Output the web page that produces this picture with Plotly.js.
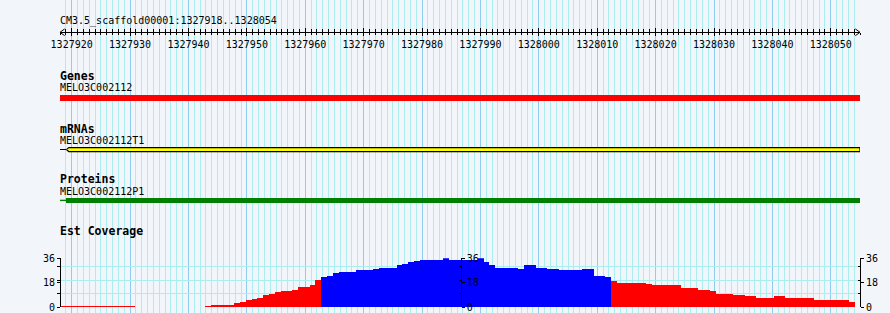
<!DOCTYPE html>
<html><head><meta charset="utf-8">
<script src="https://cdn.plot.ly/plotly-3.0.1.min.js"></script>
<style>html,body{margin:0;padding:0;background:#f2f6fb}#chart{width:890px;height:313px}</style>
</head><body><div id="chart"></div>
<script>
// ---------------- data ----------------
const refName = 'CM3.5_scaffold00001';
const regionStart = 1327918;
const regionEnd = 1328054;

const trackTitles = ['Genes', 'mRNAs', 'Proteins', 'Est Coverage'];
const featureNames = ['MELO3C002112', 'MELO3C002112T1', 'MELO3C002112P1'];

// feature extents (bp); features run past the right edge of the view
const geneSpan = [1327918, 1328055];
const mrnaConnector = [1327918, 1327919.1];
const mrnaExon = [1327919.1, 1328055];
const proteinConnector = [1327918, 1327919.05];
const proteinCds = [1327919.05, 1328055];

// EST coverage, one value per base from regionStart to regionEnd
const covValues = [
  1,1,1,1,1,1,1,1,1,1,1,1,1,
  0,0,0,0,0,0,0,0,0,0,0,0,
  1,2,2,2,2,3,4,5,6,7,9,10,11,12,12,13,15,15,16,20,
  22,23,25,26,26,26,27,27,27,28,29,29,29,31,32,33,34,35,35,35,35,36,
  35,35,35,35,35,36,33,31,29,29,29,29,28,31,31,29,29,28,28,27,27,27,27,28,28,23,23,22,
  19,18,18,18,18,18,17,16,16,16,16,16,14,14,14,13,13,12,10,10,10,9,9,8,8,7,7,7,8,8,
  7,7,7,7,7,5,5,5,5,5,5,4
];
const covMax = 36;
const covPivot = 21;
const covTickVals = [0, 18, 36];
const covTickText = ['0', '18', '36'];
const covGridVals = [0, 10, 19.5, 30, 36];

// ---------------- style ----------------
const MONO = 'DejaVu Sans Mono';
const BG = '#f2f6fb';
const GRID_MAJOR = '#8ccdf0';
const GRID_MINOR = '#abeef0';
const H = 313;
const rulerY = 32.3;           // px from top
const RULER_POS = (H - rulerY) / H;
const covBottomPx = 307.3, covTopPx = 258.2;

const covPositions = covValues.map((v, i) => regionStart + i);
const covColors = covValues.map(v => v >= covPivot ? '#0000ff' : '#ff0000');

const xr = [regionStart, regionEnd + 1];
// coverage bars use a slightly narrower pixel span (795 of 800 px)
const x2r = [regionStart, regionStart + covValues.length * 800 / 795];

const traces = [];
// Genes
traces.push({type:'bar', orientation:'h', xaxis:'x', yaxis:'y',
  base:[geneSpan[0]], x:[geneSpan[1]-geneSpan[0]], y:[97.8], width:[5.8],
  marker:{color:'#ff0000', line:{width:0}}, hoverinfo:'skip'});
// mRNA connector + exon box with strand arrow
traces.push({type:'scatter', mode:'lines', xaxis:'x', yaxis:'y',
  x:mrnaConnector, y:[149.5,149.5], line:{color:'#000', width:1}, hoverinfo:'skip', cliponaxis:false});
const a = mrnaExon[0], b = mrnaExon[1], cy = 149.6, hh = 1.95, tip = 0.4;
traces.push({type:'scatter', mode:'lines', xaxis:'x', yaxis:'y', fill:'toself', fillcolor:'#ffff00',
  x:[a, a+tip, b, b, a+tip, a], y:[cy, cy-hh, cy-hh, cy+hh, cy+hh, cy],
  line:{color:'#000', width:1.2}, hoverinfo:'skip', cliponaxis:false});
// Proteins
traces.push({type:'scatter', mode:'lines', xaxis:'x', yaxis:'y',
  x:proteinConnector, y:[200.4,200.4], line:{color:'#008000', width:1.4}, hoverinfo:'skip', cliponaxis:false});
traces.push({type:'bar', orientation:'h', xaxis:'x', yaxis:'y',
  base:[proteinCds[0]], x:[proteinCds[1]-proteinCds[0]], y:[200.5], width:[5.7],
  marker:{color:'#008000', line:{width:0}}, hoverinfo:'skip'});
// ruler arrowheads
const ad = 0.8, ah = 3.4;
traces.push({type:'scatter', mode:'lines', xaxis:'x', yaxis:'y', cliponaxis:false,
  x:[xr[0]+ad, xr[0], xr[0]+ad], y:[rulerY-ah, rulerY, rulerY+ah], line:{color:'#000', width:1}, hoverinfo:'skip'});
traces.push({type:'scatter', mode:'lines', xaxis:'x', yaxis:'y', cliponaxis:false,
  x:[xr[1]-ad, xr[1], xr[1]-ad], y:[rulerY-ah, rulerY, rulerY+ah], line:{color:'#000', width:1}, hoverinfo:'skip'});
// ruler axes holders
traces.push({type:'scatter', mode:'markers', x:[], y:[], xaxis:'x3', yaxis:'y', hoverinfo:'skip'});
traces.push({type:'scatter', mode:'markers', x:[], y:[], xaxis:'x4', yaxis:'y', hoverinfo:'skip'});
// coverage bars
traces.push({type:'bar', xaxis:'x2', yaxis:'y2',
  x:covPositions.map(p => p + 0.5), y:covValues, width:1,
  marker:{color:covColors, line:{width:0}}, hoverinfo:'skip'});
traces.push({type:'scatter', mode:'markers', x:[], y:[], xaxis:'x2', yaxis:'y3', hoverinfo:'skip'});
traces.push({type:'scatter', mode:'markers', x:[], y:[], xaxis:'x2', yaxis:'y4', hoverinfo:'skip'});
traces.push({type:'scatter', mode:'markers', x:[], y:[], xaxis:'x2', yaxis:'y5', hoverinfo:'skip'});

const tickFont = {family:MONO, size:10, color:'#000'};
const rulerCommon = {overlaying:'x', anchor:'free', position:RULER_POS, side:'bottom', range:xr,
  tickmode:'linear', tick0:1327920, dtick:10, tickformat:'d', showgrid:false, zeroline:false,
  tickcolor:'#000', tickwidth:1, fixedrange:true};
const covAxisCommon = {overlaying:'y2', anchor:'free', range:[0, covMax], tickmode:'array',
  tickvals:covTickVals, ticktext:covTickText, tickfont:tickFont, showline:true, linecolor:'#000',
  linewidth:1, tickcolor:'#000', tickwidth:1, showgrid:false, zeroline:false, fixedrange:true};

const layout = {
  width:890, height:313, margin:{l:60, r:30, t:0, b:0},
  paper_bgcolor:BG, plot_bgcolor:'rgba(0,0,0,0)', showlegend:false, hovermode:false,
  barmode:'overlay', bargap:0,
  xaxis:{domain:[0,1], range:xr, anchor:'y', showgrid:true, gridcolor:GRID_MAJOR, gridwidth:1,
    tickmode:'linear', tick0:1327920, dtick:10, ticks:'', showticklabels:false, showline:false, zeroline:false,
    minor:{tickmode:'linear', tick0:regionStart, dtick:1, showgrid:true, gridcolor:GRID_MINOR, gridwidth:1, ticks:''},
    fixedrange:true},
  yaxis:{domain:[0,1], range:[H,0], visible:false, fixedrange:true},
  xaxis3:Object.assign({}, rulerCommon, {showline:true, linecolor:'#000', linewidth:1, ticks:'outside', ticklen:3,
    tickfont:tickFont, minor:{tickmode:'linear', tick0:regionStart, dtick:1, ticks:'outside', ticklen:2, tickcolor:'#000', showgrid:false}}),
  xaxis4:Object.assign({}, rulerCommon, {showline:false, ticks:'inside', ticklen:4, showticklabels:false,
    minor:{tickmode:'linear', tick0:regionStart, dtick:1, ticks:'inside', ticklen:3, tickcolor:'#000', showgrid:false}}),
  xaxis2:{domain:[0,1], range:x2r, anchor:'y2', visible:false, fixedrange:true},
  yaxis2:{domain:[(H-covBottomPx)/H, (H-covTopPx)/H], range:[0, covMax], anchor:'x2',
    showgrid:true, gridcolor:GRID_MINOR, gridwidth:1, tickmode:'array', tickvals:covGridVals,
    showticklabels:false, ticks:'', showline:false, zeroline:false, fixedrange:true},
  yaxis3:Object.assign({}, covAxisCommon, {side:'left', position:0, ticks:'outside', ticklen:3,
    minor:{tickmode:'array', tickvals:[10,19.5,30], ticks:'outside', ticklen:3, tickcolor:'#000', showgrid:false}}),
  yaxis4:Object.assign({}, covAxisCommon, {side:'right', position:(460.7-60)/800, ticks:'outside', ticklen:3,
    minor:{tickmode:'array', tickvals:[10,19.5,30], ticks:'inside', ticklen:2, tickcolor:'#000', showgrid:false}}),
  yaxis5:Object.assign({}, covAxisCommon, {side:'right', position:1, ticks:'outside', ticklen:3,
    minor:{tickmode:'array', tickvals:[10,19.5,30], ticks:'inside', ticklen:2, tickcolor:'#000', showgrid:false}}),
  annotations:[]
};

function label(text, ypx, bold) {
  layout.annotations.push({xref:'paper', yref:'y', x:0, y:ypx, xanchor:'left', yanchor:'middle',
    text:text, showarrow:false, borderpad:0, borderwidth:0,
    font:{family:MONO, size:bold ? 11.5 : 10, color:'#000', weight:bold ? 'bold' : 'normal'}});
}
label(refName + ':' + regionStart + '..' + regionEnd, 21, false);
label(trackTitles[0], 76.3, true);
label(featureNames[0], 87.5, false);
label(trackTitles[1], 128.7, true);
label(featureNames[1], 140, false);
label(trackTitles[2], 179, true);
label(featureNames[2], 191, false);
label(trackTitles[3], 231, true);

Plotly.newPlot('chart', traces, layout, {staticPlot:true, displayModeBar:false});
</script></body></html>
